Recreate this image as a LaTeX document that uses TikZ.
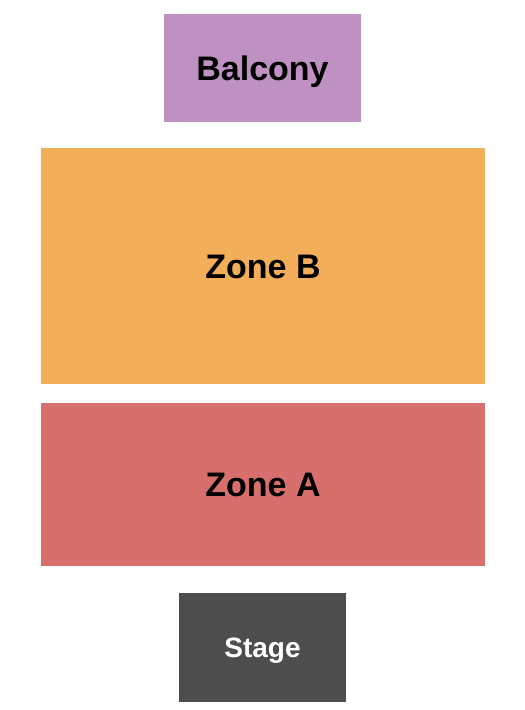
\documentclass[tikz,border=0pt]{standalone}
\usepackage{fontspec}
\setmainfont{Liberation Sans}
\definecolor{balconycol}{HTML}{BF91C3}
\definecolor{zonebcol}{HTML}{F3AE5A}
\definecolor{zoneacol}{HTML}{D76F6D}
\definecolor{stagecol}{HTML}{4D4D4D}
\tikzstyle{section}=[rectangle,inner sep=0pt,text height=24.3pt,text depth=0pt,font=\bfseries\fontsize{34}{40}\selectfont]
\tikzstyle{stagebox}=[section,fill=stagecol,text=white,text height=20pt,font=\bfseries\fontsize{28}{34}\selectfont]

\begin{document}
\begin{tikzpicture}[x=1pt,y=-1pt]
				\useasboundingbox (0,0) rectangle (525,710);
				% Draw the seating sections
				\foreach \pos/\w/\h/\col/\name/\label in {{(262.5,68)/197/108/balconycol/balcony/Balcony},
										{(263,266)/444/236/zonebcol/zoneB/Zone B}, {(263,484.5)/444/163/zoneacol/zoneA/Zone A}}
				\node[section, fill=\col, minimum width=\w pt, minimum height=\h pt] (\name) at \pos {\label};

				% Draw the stage
				\node[stagebox, minimum width=167pt, minimum height=109pt] (stage) at (262.5,647.5) {Stage};
			\end{tikzpicture}
\end{document}
